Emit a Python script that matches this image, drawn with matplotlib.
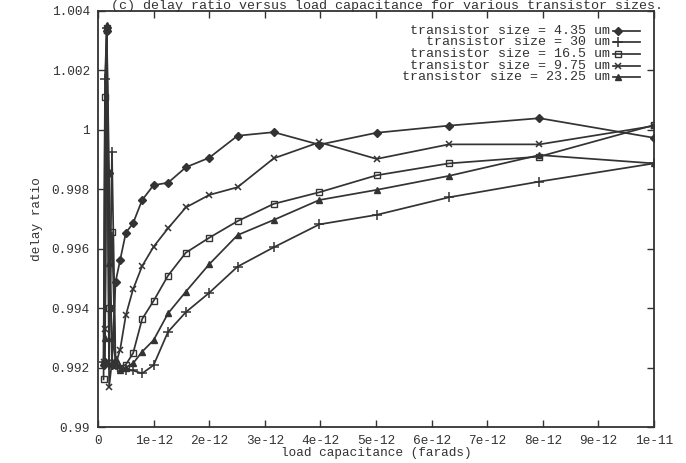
import matplotlib
matplotlib.use("Agg")
import matplotlib.pyplot as plt

# load capacitance sample points (farads), log spaced from 1e-13 to 1e-11
load_cap = [1.0e-13, 1.26e-13, 1.58e-13, 2.0e-13, 2.51e-13, 3.16e-13, 3.98e-13,
            5.01e-13, 6.31e-13, 7.94e-13, 1.0e-12, 1.26e-12, 1.58e-12, 2.0e-12,
            2.51e-12, 3.16e-12, 3.98e-12, 5.01e-12, 6.31e-12, 7.94e-12, 1.0e-11]

size_435 = [0.9921, 0.9922, 1.0033, 0.99853, 0.9921, 0.99488, 0.99561, 0.99653,
            0.99685, 0.99763, 0.99813, 0.99821, 0.99873, 0.99905, 0.99979,
            0.99991, 0.99949, 0.99989, 1.00013, 1.00038, 0.99972]
size_30 = [0.9922, 1.0017, 1.0034, 0.9921, 0.99925, 0.9921, 0.9920, 0.9919,
           0.9919, 0.9918, 0.99208, 0.99320, 0.99386, 0.99451, 0.99539, 0.99604,
           0.99681, 0.99713, 0.99772, 0.99825, 0.99886]
size_165 = [0.9916, 1.0011, 1.0034, 0.9940, 0.99655, 0.9921, 0.9920, 0.9921,
            0.99248, 0.99363, 0.99424, 0.99509, 0.99586, 0.99636, 0.99692,
            0.99750, 0.99789, 0.99846, 0.99886, 0.99909, 1.00015]
size_975 = [0.9922, 0.9933, 1.0033, 0.99135, 0.9922, 0.9921, 0.9926, 0.99376,
            0.99463, 0.99541, 0.99606, 0.99668, 0.99738, 0.99780, 0.99806,
            0.99903, 0.99957, 0.99901, 0.99950, 0.99950, 1.00012]
size_2325 = [0.9922, 0.9930, 1.0035, 0.9955, 0.9930, 0.9923, 0.9919, 0.9920,
             0.99214, 0.99253, 0.99292, 0.99382, 0.99455, 0.99547, 0.99645,
             0.99696, 0.99763, 0.99797, 0.99844, 0.99914, 0.99886]

labels = ["transistor size = 4.35 um", "transistor size = 30 um",
          "transistor size = 16.5 um", "transistor size = 9.75 um",
          "transistor size = 23.25 um"]
series = [size_435, size_30, size_165, size_975, size_2325]

xtick_labels = ["0", "1e-12", "2e-12", "3e-12", "4e-12", "5e-12", "6e-12",
                "7e-12", "8e-12", "9e-12", "1e-11"]
xticks = [i * 1e-12 for i in range(len(xtick_labels))]
yticks = [0.99, 0.992, 0.994, 0.996, 0.998, 1.0, 1.002, 1.004]
ytick_labels = ["0.99", "0.992", "0.994", "0.996", "0.998", "1", "1.002", "1.004"]

ink = "#333333"
font = "Liberation Mono"
fs = 9.2
fs_big = 9.6
styles = [dict(marker="D", ms=3.8, mfc=ink),
          dict(marker="+", ms=6.5, mew=1.1),
          dict(marker="s", ms=4.6, mfc="none", mew=1.0),
          dict(marker="x", ms=5, mew=1.1),
          dict(marker="^", ms=4.8, mfc=ink)]

plt.rcParams["font.family"] = [font, "DejaVu Sans Mono"]

fig = plt.figure(figsize=(6.86, 4.63), dpi=100)
ax = fig.add_axes([98 / 686, 1 - 427 / 463, 556 / 686, 416.5 / 463])

for vals, st in zip(series, styles):
    ax.plot(load_cap, vals, color=ink, lw=1.25, mec=ink, **st)

ax.set_xlim(0, 1e-11)
ax.set_ylim(0.99, 1.004)
ax.set_xticks(xticks)
ax.set_xticklabels(xtick_labels, fontsize=fs, color=ink)
ax.set_yticks(yticks)
ax.set_yticklabels(ytick_labels, fontsize=fs, color=ink)
ax.tick_params(direction="in", length=5, width=1.0, color=ink, top=True,
               right=True, pad=6)
for sp in ax.spines.values():
    sp.set_color(ink)
    sp.set_linewidth(1.3)

ax.set_xlabel("load capacitance (farads)", fontsize=fs, color=ink, labelpad=0)
ax.set_ylabel("delay ratio", fontsize=fs, color=ink, labelpad=6)

fig.text(0.564, 1.0, "(c) delay ratio versus load capacitance for various transistor sizes.",
         ha="center", va="top", fontsize=fs_big, color=ink)

# legend drawn gnuplot style: text right-aligned, sample line on the right
for i, (lab, st) in enumerate(zip(labels, styles)):
    yy = 1 - (30.5 + i * 11.7 - 10.5) / 416.5
    ax.text(0.921, yy, lab, transform=ax.transAxes, ha="right", va="center",
            fontsize=fs_big, color=ink)
    ax.plot([0.926, 0.975], [yy, yy], transform=ax.transAxes, color=ink,
            lw=1.25, clip_on=False)
    ax.plot([0.935], [yy], transform=ax.transAxes, color=ink, mec=ink,
            clip_on=False, ls="none", **st)

fig.savefig("out.png", dpi=100)
